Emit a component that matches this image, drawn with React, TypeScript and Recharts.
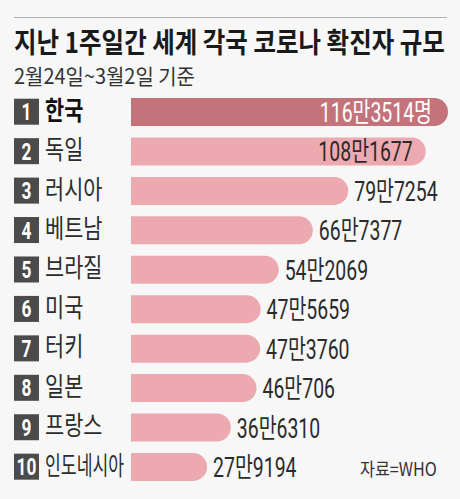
import { BarChart, Bar, XAxis, YAxis, Cell, LabelList } from "recharts";

const countries = ["한국", "독일", "러시아", "베트남", "브라질", "미국", "터키", "일본", "프랑스", "인도네시아"];
const cases = [1163514, 1081677, 797254, 667377, 542069, 475659, 473760, 460706, 366310, 279194];

const title = "지난 1주일간 세계 각국 코로나 확진자 규모";
const subtitle = "2월24일~3월2일 기준";
const source = "자료=WHO";

const W = 460;
const H = 499;
const BG = "#f7f7f7";
const TOP_BAR = "#c4737a";
const BAR = "#eda9b0";
const INK = "#2b2b2b";
const SANS = "Roboto, 'Noto Sans CJK KR', sans-serif";
const KR = "'Noto Sans CJK KR', sans-serif";

const data = countries.map((name, i) => ({ name, rank: i + 1, value: cases[i] }));

// 116만3514 style
function korNum(v: number) {
  const man = Math.floor(v / 10000);
  const rest = v % 10000;
  return `${man}만${rest}`;
}

function CountryTick(props: any) {
  const { y, payload, index } = props;
  const i = typeof index === "number" ? index : countries.indexOf(payload.value);
  const name = String(payload.value);
  const sx = Math.min(0.8, 86 / (name.length * 26));
  return (
    <g>
      <rect x={14} y={y - 13} width={25} height={26} fill="#4b4b4b" />
      <text
        transform={`translate(26.5,${y + 8.5}) scale(0.72,1)`}
        textAnchor="middle"
        fill="#fff"
        fontFamily={SANS}
        fontWeight={700}
        fontSize={24}
      >
        {i + 1}
      </text>
      <text
        transform={`translate(45,${y + 8}) scale(${sx},1)`}
        fill={i === 0 ? "#111" : INK}
        fontFamily={KR}
        fontWeight={i === 0 ? 700 : 400}
        fontSize={26}
      >
        {name}
      </text>
    </g>
  );
}

function ValueLabel(props: any) {
  const { x, y, width, height, value } = props;
  const i = typeof props.index === "number" ? props.index : cases.indexOf(value);
  const end = x + width;
  const cy = y + height / 2;
  const inside = width > 250;
  const text = korNum(value) + (i === 0 ? "명" : "");
  const tx = inside ? end - (i === 0 ? 16 : 13) : end + 6;
  return (
    <text
      transform={`translate(${tx},${cy + 10}) scale(0.72,1)`}
      textAnchor={inside ? "end" : "start"}
      fill={i === 0 ? "#fff" : INK}
      fontFamily={SANS}
      fontSize={27}
    >
      {text}
    </text>
  );
}

export default function App() {
  return (
    <div style={{ position: "absolute", left: 0, top: 0, width: W, height: H, background: BG, overflow: "hidden" }}>
      <svg width={W} height={H} style={{ position: "absolute", left: 0, top: 0 }}>
        <line x1={14} x2={447} y1={17.5} y2={17.5} stroke="#b0b0b0" strokeWidth={1} />
        <text transform="translate(14,53) scale(0.875,1)" fill="#1a1a1a" fontFamily={KR} fontWeight={700} fontSize={28}>
          {title}
        </text>
        <text transform="translate(14,84) scale(0.95,1)" fill="#333" fontFamily={KR} fontSize={21}>
          {subtitle}
        </text>
        <text transform="translate(360,476) scale(0.9,1)" fill="#333" fontFamily={KR} fontSize={18}>
          {source}
        </text>
      </svg>
      <div style={{ position: "absolute", left: 0, top: 0 }}>
        <BarChart
          width={W}
          height={H}
          data={data}
          layout="vertical"
          margin={{ top: 92, right: 12, bottom: 12.6, left: 0 }}
        >
          <XAxis type="number" domain={[0, cases[0]]} hide />
          <YAxis
            type="category"
            dataKey="name"
            width={131}
            axisLine={false}
            tickLine={false}
            tick={CountryTick}
            interval={0}
          />
          <Bar dataKey="value" barSize={28} radius={[0, 14, 14, 0]} isAnimationActive={false}>
            {data.map((d, i) => (
              <Cell key={d.name} fill={i === 0 ? TOP_BAR : BAR} />
            ))}
            <LabelList dataKey="value" content={ValueLabel} />
          </Bar>
        </BarChart>
      </div>
    </div>
  );
}
